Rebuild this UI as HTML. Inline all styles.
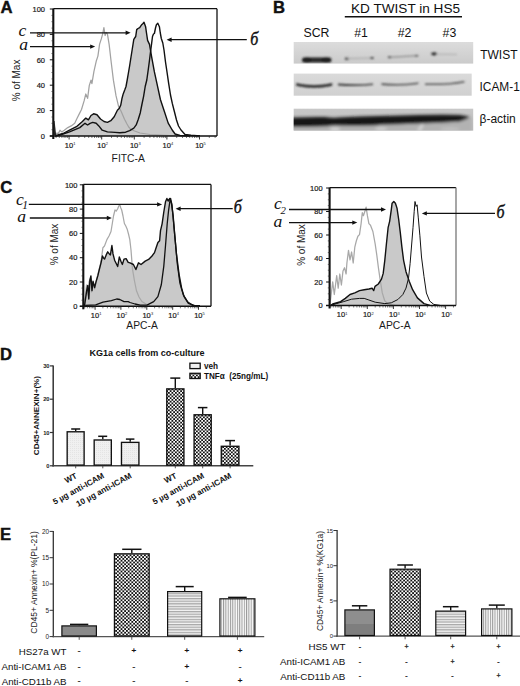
<!DOCTYPE html><html><head><meta charset="utf-8"><style>html,body{margin:0;padding:0;background:#fff;}svg{display:block;}</style></head><body>
<svg width="520" height="686" viewBox="0 0 520 686">
<defs>
<pattern id="chk" width="3.6" height="3.6" patternUnits="userSpaceOnUse"><rect width="3.6" height="3.6" fill="#fff"/><rect width="1.8" height="1.8" fill="#111"/><rect x="1.8" y="1.8" width="1.8" height="1.8" fill="#111"/></pattern>
<pattern id="chk2" width="3.5" height="3.5" patternUnits="userSpaceOnUse"><rect width="3.5" height="3.5" fill="#fff"/><rect width="1.75" height="1.75" fill="#111"/><rect x="1.75" y="1.75" width="1.75" height="1.75" fill="#111"/></pattern>
<pattern id="hl" width="4" height="2.6" patternUnits="userSpaceOnUse"><rect width="4" height="2.6" fill="#f4f4f4"/><rect width="4" height="1.3" fill="#a8a8a8"/></pattern>
<pattern id="vl" width="2.3" height="4" patternUnits="userSpaceOnUse"><rect width="2.3" height="4" fill="#fafafa"/><rect width="1" height="4" fill="#9a9a9a"/></pattern>
<pattern id="dot" width="2" height="2" patternUnits="userSpaceOnUse"><rect width="2" height="2" fill="#f0f0f0"/><rect width="1" height="1" fill="#e4e4e4"/></pattern>
<filter id="bl1" x="-20%" y="-50%" width="140%" height="200%"><feGaussianBlur stdDeviation="0.9"/></filter>
<filter id="bl2" x="-20%" y="-50%" width="140%" height="200%"><feGaussianBlur stdDeviation="1.4"/></filter>
<clipPath id="r1"><rect x="293.7" y="42" width="179.5" height="21.6"/></clipPath>
<clipPath id="r2"><rect x="293.7" y="73.6" width="178" height="22.1"/></clipPath>
<clipPath id="r3"><rect x="293.7" y="108.7" width="179.5" height="21.9"/></clipPath>
<linearGradient id="gb2" x1="0" y1="0" x2="0" y2="1"><stop offset="0.55" stop-color="#8e8e8e"/><stop offset="0.55" stop-color="#7e7e7e"/></linearGradient>
<linearGradient id="wbg1" x1="0" y1="0" x2="0" y2="1"><stop offset="0" stop-color="#dcdcdc"/><stop offset="1" stop-color="#cbcbcb"/></linearGradient>
<linearGradient id="wbg2" x1="0" y1="0" x2="0" y2="1"><stop offset="0" stop-color="#dadada"/><stop offset="1" stop-color="#d0d0d0"/></linearGradient>
<linearGradient id="wbg3" x1="0" y1="0" x2="0" y2="1"><stop offset="0" stop-color="#c8c8c8"/><stop offset="1" stop-color="#bdbdbd"/></linearGradient>
</defs>
<rect width="520" height="686" fill="#fff"/>
<text x="0.6" y="12.9" font-size="16.7" font-weight="bold" font-family='"Liberation Sans", sans-serif' fill="#111" stroke="#111" stroke-width="0.4">A</text>
<polygon points="55.0,136.0 58.0,135.0 63.0,133.5 69.5,130.2 76.4,126.7 82.4,121.5 85.8,118.1 88.4,119.8 91.0,115.5 93.6,113.8 97.0,114.7 100.5,119.0 104.0,121.5 107.4,122.4 110.8,120.7 114.2,116.8 115.8,113.5 117.4,110.2 119.1,108.6 120.7,105.3 121.9,98.8 123.2,93.9 124.8,89.8 126.0,86.5 127.2,80.0 128.4,73.0 129.6,66.0 131.0,57.0 132.2,49.5 133.8,39.4 135.7,36.5 136.7,29.6 138.0,28.5 139.7,27.6 141.7,24.7 143.0,23.5 144.0,22.3 145.6,26.7 146.5,33.0 147.6,40.4 149.5,44.4 151.5,56.2 154.4,71.9 157.4,85.7 160.4,99.5 164.3,111.3 168.2,123.1 172.2,130.0 175.1,134.0 180.0,135.5 190.0,136.0 190.0,136.0 55.0,136.0" fill="#c9c9c9" stroke="none"/>
<polyline points="55.0,136.0 58.0,135.0 63.0,133.5 69.5,130.2 76.4,126.7 82.4,121.5 85.8,118.1 88.4,119.8 91.0,115.5 93.6,113.8 97.0,114.7 100.5,119.0 104.0,121.5 107.4,122.4 110.8,120.7 114.2,116.8 115.8,113.5 117.4,110.2 119.1,108.6 120.7,105.3 121.9,98.8 123.2,93.9 124.8,89.8 126.0,86.5 127.2,80.0 128.4,73.0 129.6,66.0 131.0,57.0 132.2,49.5 133.8,39.4 135.7,36.5 136.7,29.6 138.0,28.5 139.7,27.6 141.7,24.7 143.0,23.5 144.0,22.3 145.6,26.7 146.5,33.0 147.6,40.4 149.5,44.4 151.5,56.2 154.4,71.9 157.4,85.7 160.4,99.5 164.3,111.3 168.2,123.1 172.2,130.0 175.1,134.0 180.0,135.5 190.0,136.0" fill="none" stroke="#111" stroke-width="0" stroke-linejoin="round"/>
<polyline points="55.5,135.5 57.0,133.0 58.3,133.6 60.0,130.2 61.7,131.9 64.3,130.2 67.8,127.6 71.2,125.9 74.7,123.3 77.2,118.1 79.8,112.9 81.5,109.5 84.1,100.9 85.8,94.0 87.6,98.3 89.3,85.4 91.0,80.2 91.9,83.7 93.9,71.6 96.2,61.3 97.9,56.1 99.6,44.1 101.3,38.9 102.7,33.8 103.9,27.7 105.1,35.5 106.2,32.5 107.4,33.8 109.1,44.1 111.3,63.0 113.4,80.2 116.0,95.7 118.5,106.1 121.1,111.2 124.5,119.2 127.0,124.0 128.7,127.0 131.0,129.5 134.6,131.0 140.0,133.0 150.0,134.5 170.0,135.5 200.0,136.0" fill="none" stroke="#a2a2a2" stroke-width="1.25" stroke-linejoin="round"/>
<polyline points="55.0,136.0 58.0,135.0 63.0,133.5 69.5,130.2 76.4,126.7 82.4,121.5 85.8,118.1 88.4,119.8 91.0,115.5 93.6,113.8 97.0,114.7 100.5,119.0 104.0,121.5 107.4,122.4 110.8,120.7 114.2,116.8 115.8,113.5 117.4,110.2 119.1,108.6 120.7,105.3 121.9,98.8 123.2,93.9 124.8,89.8 126.0,86.5 127.2,80.0 128.4,73.0 129.6,66.0 131.0,57.0 132.2,49.5 133.8,39.4 135.7,36.5 136.7,29.6 138.0,28.5 139.7,27.6 141.7,24.7 143.0,23.5 144.0,22.3 145.6,26.7 146.5,33.0 147.6,40.4 149.5,44.4 151.5,56.2 154.4,71.9 157.4,85.7 160.4,99.5 164.3,111.3 168.2,123.1 172.2,130.0 175.1,134.0 180.0,135.5 190.0,136.0" fill="none" stroke="#111" stroke-width="1.4" stroke-linejoin="round"/>
<polyline points="55.0,136.0 58.0,135.5 63.0,134.0 69.5,131.9 79.8,127.6 85.0,123.3 87.6,125.0 90.1,123.3 92.7,122.4 96.2,123.3 98.8,125.9 102.2,130.2 107.4,131.9 115.0,132.4 119.9,132.7 125.6,132.2 129.7,130.6 133.8,128.2 136.2,124.9 138.3,119.2 140.3,112.7 141.9,104.5 143.6,96.3 145.2,86.5 146.8,80.0 148.2,70.0 149.4,61.0 150.5,52.0 151.5,44.4 152.5,36.5 153.5,34.0 154.4,33.5 155.5,28.0 156.4,24.7 157.8,23.3 159.4,26.7 160.3,33.0 161.3,38.5 162.8,43.0 164.0,50.0 165.5,62.0 167.0,72.0 168.7,83.7 170.5,95.0 172.3,103.4 174.5,112.0 176.5,120.0 178.5,126.0 181.0,130.0 185.0,134.5 190.9,135.3 200.0,136.0" fill="none" stroke="#111" stroke-width="1.4" stroke-linejoin="round"/>
<line x1="53.3" y1="8.7" x2="217" y2="8.7" stroke="#111" stroke-width="1.3"/>
<line x1="217" y1="8.7" x2="217" y2="136" stroke="#111" stroke-width="1.3"/>
<line x1="49.8" y1="136" x2="217" y2="136" stroke="#111" stroke-width="1.5"/>
<line x1="53.3" y1="8.7" x2="53.3" y2="139" stroke="#111" stroke-width="2.1"/>
<line x1="49.8" y1="136.0" x2="53.3" y2="136.0" stroke="#111" stroke-width="1"/>
<text x="45" y="138.7" font-size="7.5" text-anchor="end" font-weight="normal" font-style="normal" font-family='"Liberation Sans", sans-serif' fill="#1a1a1a" stroke="#1a1a1a" stroke-width="0.2">0</text>
<line x1="51.5" y1="129.7" x2="53.3" y2="129.7" stroke="#333" stroke-width="0.7"/>
<line x1="51.5" y1="123.3" x2="53.3" y2="123.3" stroke="#333" stroke-width="0.7"/>
<line x1="51.5" y1="117.0" x2="53.3" y2="117.0" stroke="#333" stroke-width="0.7"/>
<line x1="49.8" y1="110.6" x2="53.3" y2="110.6" stroke="#111" stroke-width="1"/>
<text x="45" y="113.3" font-size="7.5" text-anchor="end" font-weight="normal" font-style="normal" font-family='"Liberation Sans", sans-serif' fill="#1a1a1a" stroke="#1a1a1a" stroke-width="0.2">20</text>
<line x1="51.5" y1="104.2" x2="53.3" y2="104.2" stroke="#333" stroke-width="0.7"/>
<line x1="51.5" y1="97.9" x2="53.3" y2="97.9" stroke="#333" stroke-width="0.7"/>
<line x1="51.5" y1="91.5" x2="53.3" y2="91.5" stroke="#333" stroke-width="0.7"/>
<line x1="49.8" y1="85.2" x2="53.3" y2="85.2" stroke="#111" stroke-width="1"/>
<text x="45" y="87.9" font-size="7.5" text-anchor="end" font-weight="normal" font-style="normal" font-family='"Liberation Sans", sans-serif' fill="#1a1a1a" stroke="#1a1a1a" stroke-width="0.2">40</text>
<line x1="51.5" y1="78.9" x2="53.3" y2="78.9" stroke="#333" stroke-width="0.7"/>
<line x1="51.5" y1="72.5" x2="53.3" y2="72.5" stroke="#333" stroke-width="0.7"/>
<line x1="51.5" y1="66.2" x2="53.3" y2="66.2" stroke="#333" stroke-width="0.7"/>
<line x1="49.8" y1="59.8" x2="53.3" y2="59.8" stroke="#111" stroke-width="1"/>
<text x="45" y="62.5" font-size="7.5" text-anchor="end" font-weight="normal" font-style="normal" font-family='"Liberation Sans", sans-serif' fill="#1a1a1a" stroke="#1a1a1a" stroke-width="0.2">60</text>
<line x1="51.5" y1="53.5" x2="53.3" y2="53.5" stroke="#333" stroke-width="0.7"/>
<line x1="51.5" y1="47.1" x2="53.3" y2="47.1" stroke="#333" stroke-width="0.7"/>
<line x1="51.5" y1="40.8" x2="53.3" y2="40.8" stroke="#333" stroke-width="0.7"/>
<line x1="49.8" y1="34.4" x2="53.3" y2="34.4" stroke="#111" stroke-width="1"/>
<text x="45" y="37.1" font-size="7.5" text-anchor="end" font-weight="normal" font-style="normal" font-family='"Liberation Sans", sans-serif' fill="#1a1a1a" stroke="#1a1a1a" stroke-width="0.2">80</text>
<line x1="51.5" y1="28.1" x2="53.3" y2="28.1" stroke="#333" stroke-width="0.7"/>
<line x1="51.5" y1="21.7" x2="53.3" y2="21.7" stroke="#333" stroke-width="0.7"/>
<line x1="51.5" y1="15.4" x2="53.3" y2="15.4" stroke="#333" stroke-width="0.7"/>
<line x1="49.8" y1="9.0" x2="53.3" y2="9.0" stroke="#111" stroke-width="1"/>
<text x="45" y="11.7" font-size="7.5" text-anchor="end" font-weight="normal" font-style="normal" font-family='"Liberation Sans", sans-serif' fill="#1a1a1a" stroke="#1a1a1a" stroke-width="0.2">100</text>
<line x1="56.1" y1="136" x2="56.1" y2="138" stroke="#222" stroke-width="0.6"/>
<line x1="59.3" y1="136" x2="59.3" y2="138" stroke="#222" stroke-width="0.6"/>
<line x1="61.9" y1="136" x2="61.9" y2="138" stroke="#222" stroke-width="0.6"/>
<line x1="64.1" y1="136" x2="64.1" y2="138" stroke="#222" stroke-width="0.6"/>
<line x1="65.9" y1="136" x2="65.9" y2="138" stroke="#222" stroke-width="0.6"/>
<line x1="67.6" y1="136" x2="67.6" y2="138" stroke="#222" stroke-width="0.6"/>
<line x1="69.1" y1="136" x2="69.1" y2="139.5" stroke="#222" stroke-width="0.9"/>
<line x1="78.9" y1="136" x2="78.9" y2="138" stroke="#222" stroke-width="0.6"/>
<line x1="84.7" y1="136" x2="84.7" y2="138" stroke="#222" stroke-width="0.6"/>
<line x1="88.7" y1="136" x2="88.7" y2="138" stroke="#222" stroke-width="0.6"/>
<line x1="91.9" y1="136" x2="91.9" y2="138" stroke="#222" stroke-width="0.6"/>
<line x1="94.5" y1="136" x2="94.5" y2="138" stroke="#222" stroke-width="0.6"/>
<line x1="96.7" y1="136" x2="96.7" y2="138" stroke="#222" stroke-width="0.6"/>
<line x1="98.5" y1="136" x2="98.5" y2="138" stroke="#222" stroke-width="0.6"/>
<line x1="100.2" y1="136" x2="100.2" y2="138" stroke="#222" stroke-width="0.6"/>
<line x1="101.7" y1="136" x2="101.7" y2="139.5" stroke="#222" stroke-width="0.9"/>
<line x1="111.5" y1="136" x2="111.5" y2="138" stroke="#222" stroke-width="0.6"/>
<line x1="117.3" y1="136" x2="117.3" y2="138" stroke="#222" stroke-width="0.6"/>
<line x1="121.3" y1="136" x2="121.3" y2="138" stroke="#222" stroke-width="0.6"/>
<line x1="124.5" y1="136" x2="124.5" y2="138" stroke="#222" stroke-width="0.6"/>
<line x1="127.1" y1="136" x2="127.1" y2="138" stroke="#222" stroke-width="0.6"/>
<line x1="129.3" y1="136" x2="129.3" y2="138" stroke="#222" stroke-width="0.6"/>
<line x1="131.1" y1="136" x2="131.1" y2="138" stroke="#222" stroke-width="0.6"/>
<line x1="132.8" y1="136" x2="132.8" y2="138" stroke="#222" stroke-width="0.6"/>
<line x1="134.3" y1="136" x2="134.3" y2="139.5" stroke="#222" stroke-width="0.9"/>
<line x1="144.1" y1="136" x2="144.1" y2="138" stroke="#222" stroke-width="0.6"/>
<line x1="149.9" y1="136" x2="149.9" y2="138" stroke="#222" stroke-width="0.6"/>
<line x1="153.9" y1="136" x2="153.9" y2="138" stroke="#222" stroke-width="0.6"/>
<line x1="157.1" y1="136" x2="157.1" y2="138" stroke="#222" stroke-width="0.6"/>
<line x1="159.7" y1="136" x2="159.7" y2="138" stroke="#222" stroke-width="0.6"/>
<line x1="161.9" y1="136" x2="161.9" y2="138" stroke="#222" stroke-width="0.6"/>
<line x1="163.7" y1="136" x2="163.7" y2="138" stroke="#222" stroke-width="0.6"/>
<line x1="165.4" y1="136" x2="165.4" y2="138" stroke="#222" stroke-width="0.6"/>
<line x1="166.9" y1="136" x2="166.9" y2="139.5" stroke="#222" stroke-width="0.9"/>
<line x1="176.7" y1="136" x2="176.7" y2="138" stroke="#222" stroke-width="0.6"/>
<line x1="182.5" y1="136" x2="182.5" y2="138" stroke="#222" stroke-width="0.6"/>
<line x1="186.5" y1="136" x2="186.5" y2="138" stroke="#222" stroke-width="0.6"/>
<line x1="189.7" y1="136" x2="189.7" y2="138" stroke="#222" stroke-width="0.6"/>
<line x1="192.3" y1="136" x2="192.3" y2="138" stroke="#222" stroke-width="0.6"/>
<line x1="194.5" y1="136" x2="194.5" y2="138" stroke="#222" stroke-width="0.6"/>
<line x1="196.3" y1="136" x2="196.3" y2="138" stroke="#222" stroke-width="0.6"/>
<line x1="198.0" y1="136" x2="198.0" y2="138" stroke="#222" stroke-width="0.6"/>
<line x1="199.5" y1="136" x2="199.5" y2="139.5" stroke="#222" stroke-width="0.9"/>
<line x1="209.3" y1="136" x2="209.3" y2="138" stroke="#222" stroke-width="0.6"/>
<line x1="215.1" y1="136" x2="215.1" y2="138" stroke="#222" stroke-width="0.6"/>
<text x="68.9" y="147.6" font-size="7.5" text-anchor="middle" font-weight="normal" font-style="normal" font-family='"Liberation Sans", sans-serif' fill="#1a1a1a" stroke="#1a1a1a" stroke-width="0.2">10</text>
<text x="73.2" y="145.0" font-size="4.0" text-anchor="start" font-weight="normal" font-style="normal" font-family='"Liberation Sans", sans-serif' fill="#222" >1</text>
<text x="101.5" y="147.6" font-size="7.5" text-anchor="middle" font-weight="normal" font-style="normal" font-family='"Liberation Sans", sans-serif' fill="#1a1a1a" stroke="#1a1a1a" stroke-width="0.2">10</text>
<text x="105.8" y="145.0" font-size="4.0" text-anchor="start" font-weight="normal" font-style="normal" font-family='"Liberation Sans", sans-serif' fill="#222" >2</text>
<text x="134.1" y="147.6" font-size="7.5" text-anchor="middle" font-weight="normal" font-style="normal" font-family='"Liberation Sans", sans-serif' fill="#1a1a1a" stroke="#1a1a1a" stroke-width="0.2">10</text>
<text x="138.4" y="145.0" font-size="4.0" text-anchor="start" font-weight="normal" font-style="normal" font-family='"Liberation Sans", sans-serif' fill="#222" >3</text>
<text x="166.7" y="147.6" font-size="7.5" text-anchor="middle" font-weight="normal" font-style="normal" font-family='"Liberation Sans", sans-serif' fill="#1a1a1a" stroke="#1a1a1a" stroke-width="0.2">10</text>
<text x="171.0" y="145.0" font-size="4.0" text-anchor="start" font-weight="normal" font-style="normal" font-family='"Liberation Sans", sans-serif' fill="#222" >4</text>
<text x="199.3" y="147.6" font-size="7.5" text-anchor="middle" font-weight="normal" font-style="normal" font-family='"Liberation Sans", sans-serif' fill="#1a1a1a" stroke="#1a1a1a" stroke-width="0.2">10</text>
<text x="203.6" y="145.0" font-size="4.0" text-anchor="start" font-weight="normal" font-style="normal" font-family='"Liberation Sans", sans-serif' fill="#222" >5</text>
<text x="128.2" y="162.0" font-size="10.3" text-anchor="middle" font-weight="normal" font-style="normal" font-family='"Liberation Sans", sans-serif' fill="#1a1a1a" >FITC-A</text>
<text x="0" y="0" font-size="10" text-anchor="middle" font-family='"Liberation Sans", sans-serif' fill="#222" transform="translate(20.0,80.4) rotate(-90)">% of Max</text>
<polygon points="53.6,121 54.6,121 56.2,135.5 53.6,135.5" fill="#222"/>
<line x1="30" y1="32.8" x2="127.6" y2="32.8" stroke="#111" stroke-width="1.3"/>
<polygon points="130.6,32.8 125.6,30.599999999999998 125.6,35.0" fill="#111"/>
<line x1="30" y1="46.6" x2="92.2" y2="46.6" stroke="#111" stroke-width="1.3"/>
<polygon points="95.2,46.6 90.2,44.4 90.2,48.800000000000004" fill="#111"/>
<line x1="246.8" y1="39.7" x2="169.6" y2="39.7" stroke="#111" stroke-width="1.3"/>
<polygon points="166.6,39.7 171.6,37.5 171.6,41.900000000000006" fill="#111"/>
<text x="18.5" y="36.2" font-size="17.6" text-anchor="start" font-weight="normal" font-style="italic" font-family='"Liberation Serif", serif' fill="#111" >c</text>
<text x="19.2" y="50.1" font-size="17.6" text-anchor="start" font-weight="normal" font-style="italic" font-family='"Liberation Serif", serif' fill="#111" >a</text>
<text x="0" y="0" font-size="19.3" font-style="italic" font-family='"Liberation Serif", serif' fill="#111" stroke="#111" stroke-width="0.45" transform="translate(250.29999999999998,44.5) scale(0.83,1)">б</text>
<text x="273.0" y="12.9" font-size="16.7" font-weight="bold" font-family='"Liberation Sans", sans-serif' fill="#111" stroke="#111" stroke-width="0.4">B</text>
<text x="351" y="12.6" font-size="13.6" text-anchor="start" font-weight="normal" font-style="normal" font-family='"Liberation Sans", sans-serif' fill="#111" >KD TWIST in HS5</text>
<line x1="344.8" y1="16.8" x2="462" y2="16.8" stroke="#111" stroke-width="1.6"/>
<text x="316.5" y="36.6" font-size="12.3" text-anchor="middle" font-weight="normal" font-style="normal" font-family='"Liberation Sans", sans-serif' fill="#111" >SCR</text>
<text x="361" y="36.6" font-size="12.3" text-anchor="middle" font-weight="normal" font-style="normal" font-family='"Liberation Sans", sans-serif' fill="#111" >#1</text>
<text x="404.5" y="36.6" font-size="12.3" text-anchor="middle" font-weight="normal" font-style="normal" font-family='"Liberation Sans", sans-serif' fill="#111" >#2</text>
<text x="449.4" y="36.6" font-size="12.3" text-anchor="middle" font-weight="normal" font-style="normal" font-family='"Liberation Sans", sans-serif' fill="#111" >#3</text>
<text x="480.2" y="59.4" font-size="12" text-anchor="start" font-weight="normal" font-style="normal" font-family='"Liberation Sans", sans-serif' fill="#111" >TWIST</text>
<text x="479.5" y="91.3" font-size="11.9" text-anchor="start" font-weight="normal" font-style="normal" font-family='"Liberation Sans", sans-serif' fill="#111" >ICAM-1</text>
<text x="479.5" y="123.0" font-size="12" text-anchor="start" font-weight="normal" font-style="normal" font-family='"Liberation Sans", sans-serif' fill="#111" >β-actin</text>
<rect x="293.7" y="42" width="179.5" height="21.6" fill="url(#wbg1)"/>
<g clip-path="url(#r1)"><g filter="url(#bl1)">
<rect x="302" y="57.5" width="29.5" height="5.0" rx="2.5" fill="#262626"/><ellipse cx="307" cy="60" rx="4.5" ry="2.4" fill="#1a1a1a"/><ellipse cx="326" cy="60" rx="4.5" ry="2.4" fill="#1a1a1a"/>
<ellipse cx="347" cy="58.7" rx="2.2" ry="1.2" fill="#333"/><line x1="347" y1="58.6" x2="372" y2="58.0" stroke="#a4a4a4" stroke-width="1"/><ellipse cx="372" cy="58" rx="2" ry="1.1" fill="#444"/>
<line x1="388" y1="57.4" x2="418.5" y2="55.6" stroke="#8a8a8a" stroke-width="1.1"/><ellipse cx="389.5" cy="57.3" rx="1.8" ry="1" fill="#555"/><ellipse cx="416.5" cy="55.7" rx="1.8" ry="1" fill="#666"/>
<ellipse cx="434.2" cy="53.8" rx="3.0" ry="1.6" fill="#2a2a2a"/><line x1="436" y1="54.2" x2="457" y2="54.4" stroke="#aaa" stroke-width="1"/>
</g></g>
<rect x="293.7" y="73.6" width="178" height="22.1" fill="url(#wbg2)"/>
<g clip-path="url(#r2)"><g filter="url(#bl1)">
<path d="M296,83.2 Q314,87.2 332.4,83.2 L332,85.8 Q314,89.8 296.5,85.8 Z" fill="#1c1c1c"/>
<path d="M338,83.6 Q355,85.2 373,83.4 L373,85.0 Q355,86.8 338,85.4 Z" fill="#3a3a3a"/>
<path d="M381.5,83.2 Q400,85.0 418.4,82.4 L418.4,83.9 Q400,86.4 381.5,84.9 Z" fill="#4a4a4a"/>
<path d="M425,83.4 Q448,84.2 464.5,81.0 L464.5,82.4 Q448,85.6 425,85.0 Z" fill="#505050"/>
</g></g>
<rect x="293.7" y="108.7" width="179.5" height="21.9" fill="url(#wbg3)"/>
<g clip-path="url(#r3)"><g filter="url(#bl2)">
<path d="M290,123 L294,123 L333,124 L379,122.5 L420,121.5 L462,120 L472,118 L472,132 L290,132 Z" fill="#b2b2b2"/>
<ellipse cx="335" cy="129" rx="5" ry="2" fill="#d0d0d0"/><ellipse cx="381" cy="128.8" rx="6" ry="1.8" fill="#cdcdcd"/><path d="M421,124 L417,131 L421,131 L424,124 Z" fill="#d2d2d2"/><ellipse cx="450" cy="129" rx="10" ry="1.5" fill="#c4c4c4"/>
<path d="M290,117.6 L294,117.6 Q312,116.6 325,117 Q332,118.3 338,117.4 Q360,116.2 379,116.0 Q400,115.2 420,114.9 Q445,114.4 460,114.9 Q466,115.6 470,117.0 L470,117.6 Q466,119.6 460,121.4 Q440,122.8 420,123.4 Q400,124.2 382,124.7 Q378,125.3 372,125.5 Q350,125.8 336,125.6 Q333,125.0 328,126.3 Q310,126.9 294,127.0 L290,127.0 Z" fill="#181818"/>
</g></g>
<text x="0.3" y="193.2" font-size="16.7" font-weight="bold" font-family='"Liberation Sans", sans-serif' fill="#111" stroke="#111" stroke-width="0.4">C</text>
<polygon points="84.2,306.0 84.6,305.3 86.7,290.6 87.8,285.4 88.8,299.0 89.9,280.1 90.9,275.9 92.0,290.6 93.0,281.2 94.6,287.5 96.2,281.2 97.8,275.9 99.3,269.6 100.9,263.3 102.5,256.0 103.5,258.0 104.6,259.1 106.2,254.9 107.7,251.8 109.3,253.9 110.4,254.9 111.9,245.5 113.0,253.9 114.6,260.2 116.1,263.3 117.7,266.5 119.3,257.0 120.9,261.2 122.4,264.4 124.0,259.1 126.1,258.6 128.2,262.3 130.0,262.8 133.4,264.5 135.9,269.5 138.5,262.8 141.0,264.5 145.2,261.1 148.6,259.4 152.0,256.0 154.5,252.6 156.2,247.5 157.9,242.5 159.6,240.8 160.5,230.6 162.1,223.8 163.8,212.0 165.5,201.8 166.9,198.5 168.1,201.0 169.8,198.5 171.5,203.5 173.1,215.4 174.8,235.7 176.5,254.3 179.1,274.6 181.6,288.1 184.1,296.6 188.4,303.4 194.3,305.5 200.0,305.8 200.0,306.3 84.2,306.3" fill="#c9c9c9" stroke="none"/>
<polyline points="84.2,306.0 84.6,305.3 86.7,290.6 87.8,285.4 88.8,299.0 89.9,280.1 90.9,275.9 92.0,290.6 93.0,281.2 94.6,287.5 96.2,281.2 97.8,275.9 99.3,269.6 100.9,263.3 102.5,256.0 103.5,258.0 104.6,259.1 106.2,254.9 107.7,251.8 109.3,253.9 110.4,254.9 111.9,245.5 113.0,253.9 114.6,260.2 116.1,263.3 117.7,266.5 119.3,257.0 120.9,261.2 122.4,264.4 124.0,259.1 126.1,258.6 128.2,262.3 130.0,262.8 133.4,264.5 135.9,269.5 138.5,262.8 141.0,264.5 145.2,261.1 148.6,259.4 152.0,256.0 154.5,252.6 156.2,247.5 157.9,242.5 159.6,240.8 160.5,230.6 162.1,223.8 163.8,212.0 165.5,201.8 166.9,198.5 168.1,201.0 169.8,198.5 171.5,203.5 173.1,215.4 174.8,235.7 176.5,254.3 179.1,274.6 181.6,288.1 184.1,296.6 188.4,303.4 194.3,305.5 200.0,305.8" fill="none" stroke="#111" stroke-width="0" stroke-linejoin="round"/>
<polyline points="84.2,306.0 85.5,296.0 86.5,285.0 88.0,295.0 89.0,282.0 90.5,278.0 91.5,292.0 93.0,283.0 94.8,289.0 96.5,280.0 98.0,274.0 99.5,268.0 101.0,262.0 102.9,247.7 104.5,246.0 106.9,239.6 109.0,236.0 111.0,231.5 112.3,223.5 113.5,216.0 115.0,210.0 116.3,211.0 117.7,208.7 118.8,206.0 119.8,204.6 120.8,208.0 121.7,210.0 123.0,216.0 124.4,223.5 125.8,226.0 127.1,228.9 128.5,234.0 129.8,239.6 131.0,250.0 132.5,269.2 134.5,281.0 136.5,290.8 139.0,297.0 141.9,301.5 146.0,304.0 150.0,305.5" fill="none" stroke="#a8a8a8" stroke-width="1.25" stroke-linejoin="round"/>
<polyline points="84.2,306.0 84.6,305.3 86.7,290.6 87.8,285.4 88.8,299.0 89.9,280.1 90.9,275.9 92.0,290.6 93.0,281.2 94.6,287.5 96.2,281.2 97.8,275.9 99.3,269.6 100.9,263.3 102.5,256.0 103.5,258.0 104.6,259.1 106.2,254.9 107.7,251.8 109.3,253.9 110.4,254.9 111.9,245.5 113.0,253.9 114.6,260.2 116.1,263.3 117.7,266.5 119.3,257.0 120.9,261.2 122.4,264.4 124.0,259.1 126.1,258.6 128.2,262.3 130.0,262.8 133.4,264.5 135.9,269.5 138.5,262.8 141.0,264.5 145.2,261.1 148.6,259.4 152.0,256.0 154.5,252.6 156.2,247.5 157.9,242.5 159.6,240.8 160.5,230.6 162.1,223.8 163.8,212.0 165.5,201.8 166.9,198.5 168.1,201.0 169.8,198.5 171.5,203.5 173.1,215.4 174.8,235.7 176.5,254.3 179.1,274.6 181.6,288.1 184.1,296.6 188.4,303.4 194.3,305.5 200.0,305.8" fill="none" stroke="#111" stroke-width="1.4" stroke-linejoin="round"/>
<polyline points="85.2,305.3 95.7,304.8 103.0,302.2 111.4,300.6 116.7,299.0 119.8,299.5 124.0,301.6 128.2,301.6 130.0,302.5 135.0,304.0 140.2,305.1 146.9,305.1 153.7,301.7 157.9,296.6 161.3,284.8 163.8,266.1 165.5,245.8 167.2,223.8 168.6,210.3 169.8,201.8 170.6,198.5 172.0,205.2 173.7,223.8 175.7,245.8 177.4,264.5 179.9,283.1 183.3,294.9 187.5,301.7 192.6,305.3 200.0,305.8" fill="none" stroke="#111" stroke-width="1.3" stroke-linejoin="round"/>
<line x1="83.3" y1="184.4" x2="211" y2="184.4" stroke="#111" stroke-width="1.3"/>
<line x1="211" y1="184.4" x2="211" y2="306.3" stroke="#111" stroke-width="1.3"/>
<line x1="79.8" y1="306.3" x2="211" y2="306.3" stroke="#111" stroke-width="1.5"/>
<line x1="83.3" y1="184.4" x2="83.3" y2="309.3" stroke="#111" stroke-width="2.1"/>
<line x1="79.8" y1="306.3" x2="83.3" y2="306.3" stroke="#111" stroke-width="1"/>
<text x="77.4" y="309.0" font-size="7.5" text-anchor="end" font-weight="normal" font-style="normal" font-family='"Liberation Sans", sans-serif' fill="#1a1a1a" stroke="#1a1a1a" stroke-width="0.2">0</text>
<line x1="81.5" y1="300.2" x2="83.3" y2="300.2" stroke="#333" stroke-width="0.7"/>
<line x1="81.5" y1="294.2" x2="83.3" y2="294.2" stroke="#333" stroke-width="0.7"/>
<line x1="81.5" y1="288.1" x2="83.3" y2="288.1" stroke="#333" stroke-width="0.7"/>
<line x1="79.8" y1="282.0" x2="83.3" y2="282.0" stroke="#111" stroke-width="1"/>
<text x="77.4" y="284.7" font-size="7.5" text-anchor="end" font-weight="normal" font-style="normal" font-family='"Liberation Sans", sans-serif' fill="#1a1a1a" stroke="#1a1a1a" stroke-width="0.2">20</text>
<line x1="81.5" y1="275.9" x2="83.3" y2="275.9" stroke="#333" stroke-width="0.7"/>
<line x1="81.5" y1="269.9" x2="83.3" y2="269.9" stroke="#333" stroke-width="0.7"/>
<line x1="81.5" y1="263.8" x2="83.3" y2="263.8" stroke="#333" stroke-width="0.7"/>
<line x1="79.8" y1="257.7" x2="83.3" y2="257.7" stroke="#111" stroke-width="1"/>
<text x="77.4" y="260.4" font-size="7.5" text-anchor="end" font-weight="normal" font-style="normal" font-family='"Liberation Sans", sans-serif' fill="#1a1a1a" stroke="#1a1a1a" stroke-width="0.2">40</text>
<line x1="81.5" y1="251.6" x2="83.3" y2="251.6" stroke="#333" stroke-width="0.7"/>
<line x1="81.5" y1="245.5" x2="83.3" y2="245.5" stroke="#333" stroke-width="0.7"/>
<line x1="81.5" y1="239.5" x2="83.3" y2="239.5" stroke="#333" stroke-width="0.7"/>
<line x1="79.8" y1="233.4" x2="83.3" y2="233.4" stroke="#111" stroke-width="1"/>
<text x="77.4" y="236.1" font-size="7.5" text-anchor="end" font-weight="normal" font-style="normal" font-family='"Liberation Sans", sans-serif' fill="#1a1a1a" stroke="#1a1a1a" stroke-width="0.2">60</text>
<line x1="81.5" y1="227.3" x2="83.3" y2="227.3" stroke="#333" stroke-width="0.7"/>
<line x1="81.5" y1="221.2" x2="83.3" y2="221.2" stroke="#333" stroke-width="0.7"/>
<line x1="81.5" y1="215.2" x2="83.3" y2="215.2" stroke="#333" stroke-width="0.7"/>
<line x1="79.8" y1="209.1" x2="83.3" y2="209.1" stroke="#111" stroke-width="1"/>
<text x="77.4" y="211.8" font-size="7.5" text-anchor="end" font-weight="normal" font-style="normal" font-family='"Liberation Sans", sans-serif' fill="#1a1a1a" stroke="#1a1a1a" stroke-width="0.2">80</text>
<line x1="81.5" y1="203.0" x2="83.3" y2="203.0" stroke="#333" stroke-width="0.7"/>
<line x1="81.5" y1="197.0" x2="83.3" y2="197.0" stroke="#333" stroke-width="0.7"/>
<line x1="81.5" y1="190.9" x2="83.3" y2="190.9" stroke="#333" stroke-width="0.7"/>
<line x1="79.8" y1="184.8" x2="83.3" y2="184.8" stroke="#111" stroke-width="1"/>
<text x="77.4" y="187.5" font-size="7.5" text-anchor="end" font-weight="normal" font-style="normal" font-family='"Liberation Sans", sans-serif' fill="#1a1a1a" stroke="#1a1a1a" stroke-width="0.2">100</text>
<line x1="84.8" y1="306.3" x2="84.8" y2="308.3" stroke="#222" stroke-width="0.6"/>
<line x1="87.3" y1="306.3" x2="87.3" y2="308.3" stroke="#222" stroke-width="0.6"/>
<line x1="89.4" y1="306.3" x2="89.4" y2="308.3" stroke="#222" stroke-width="0.6"/>
<line x1="91.1" y1="306.3" x2="91.1" y2="308.3" stroke="#222" stroke-width="0.6"/>
<line x1="92.6" y1="306.3" x2="92.6" y2="308.3" stroke="#222" stroke-width="0.6"/>
<line x1="93.9" y1="306.3" x2="93.9" y2="308.3" stroke="#222" stroke-width="0.6"/>
<line x1="95.1" y1="306.3" x2="95.1" y2="309.8" stroke="#222" stroke-width="0.9"/>
<line x1="102.9" y1="306.3" x2="102.9" y2="308.3" stroke="#222" stroke-width="0.6"/>
<line x1="107.4" y1="306.3" x2="107.4" y2="308.3" stroke="#222" stroke-width="0.6"/>
<line x1="110.7" y1="306.3" x2="110.7" y2="308.3" stroke="#222" stroke-width="0.6"/>
<line x1="113.2" y1="306.3" x2="113.2" y2="308.3" stroke="#222" stroke-width="0.6"/>
<line x1="115.2" y1="306.3" x2="115.2" y2="308.3" stroke="#222" stroke-width="0.6"/>
<line x1="116.9" y1="306.3" x2="116.9" y2="308.3" stroke="#222" stroke-width="0.6"/>
<line x1="118.4" y1="306.3" x2="118.4" y2="308.3" stroke="#222" stroke-width="0.6"/>
<line x1="119.8" y1="306.3" x2="119.8" y2="308.3" stroke="#222" stroke-width="0.6"/>
<line x1="120.9" y1="306.3" x2="120.9" y2="309.8" stroke="#222" stroke-width="0.9"/>
<line x1="128.7" y1="306.3" x2="128.7" y2="308.3" stroke="#222" stroke-width="0.6"/>
<line x1="133.3" y1="306.3" x2="133.3" y2="308.3" stroke="#222" stroke-width="0.6"/>
<line x1="136.5" y1="306.3" x2="136.5" y2="308.3" stroke="#222" stroke-width="0.6"/>
<line x1="139.0" y1="306.3" x2="139.0" y2="308.3" stroke="#222" stroke-width="0.6"/>
<line x1="141.1" y1="306.3" x2="141.1" y2="308.3" stroke="#222" stroke-width="0.6"/>
<line x1="142.8" y1="306.3" x2="142.8" y2="308.3" stroke="#222" stroke-width="0.6"/>
<line x1="144.3" y1="306.3" x2="144.3" y2="308.3" stroke="#222" stroke-width="0.6"/>
<line x1="145.6" y1="306.3" x2="145.6" y2="308.3" stroke="#222" stroke-width="0.6"/>
<line x1="146.8" y1="306.3" x2="146.8" y2="309.8" stroke="#222" stroke-width="0.9"/>
<line x1="154.6" y1="306.3" x2="154.6" y2="308.3" stroke="#222" stroke-width="0.6"/>
<line x1="159.1" y1="306.3" x2="159.1" y2="308.3" stroke="#222" stroke-width="0.6"/>
<line x1="162.4" y1="306.3" x2="162.4" y2="308.3" stroke="#222" stroke-width="0.6"/>
<line x1="164.9" y1="306.3" x2="164.9" y2="308.3" stroke="#222" stroke-width="0.6"/>
<line x1="166.9" y1="306.3" x2="166.9" y2="308.3" stroke="#222" stroke-width="0.6"/>
<line x1="168.6" y1="306.3" x2="168.6" y2="308.3" stroke="#222" stroke-width="0.6"/>
<line x1="170.1" y1="306.3" x2="170.1" y2="308.3" stroke="#222" stroke-width="0.6"/>
<line x1="171.5" y1="306.3" x2="171.5" y2="308.3" stroke="#222" stroke-width="0.6"/>
<line x1="172.7" y1="306.3" x2="172.7" y2="309.8" stroke="#222" stroke-width="0.9"/>
<line x1="180.4" y1="306.3" x2="180.4" y2="308.3" stroke="#222" stroke-width="0.6"/>
<line x1="185.0" y1="306.3" x2="185.0" y2="308.3" stroke="#222" stroke-width="0.6"/>
<line x1="188.2" y1="306.3" x2="188.2" y2="308.3" stroke="#222" stroke-width="0.6"/>
<line x1="190.7" y1="306.3" x2="190.7" y2="308.3" stroke="#222" stroke-width="0.6"/>
<line x1="192.8" y1="306.3" x2="192.8" y2="308.3" stroke="#222" stroke-width="0.6"/>
<line x1="194.5" y1="306.3" x2="194.5" y2="308.3" stroke="#222" stroke-width="0.6"/>
<line x1="196.0" y1="306.3" x2="196.0" y2="308.3" stroke="#222" stroke-width="0.6"/>
<line x1="197.3" y1="306.3" x2="197.3" y2="308.3" stroke="#222" stroke-width="0.6"/>
<line x1="198.5" y1="306.3" x2="198.5" y2="309.8" stroke="#222" stroke-width="0.9"/>
<line x1="206.3" y1="306.3" x2="206.3" y2="308.3" stroke="#222" stroke-width="0.6"/>
<text x="94.9" y="317.9" font-size="7.5" text-anchor="middle" font-weight="normal" font-style="normal" font-family='"Liberation Sans", sans-serif' fill="#1a1a1a" stroke="#1a1a1a" stroke-width="0.2">10</text>
<text x="99.2" y="315.3" font-size="4.0" text-anchor="start" font-weight="normal" font-style="normal" font-family='"Liberation Sans", sans-serif' fill="#222" >1</text>
<text x="120.7" y="317.9" font-size="7.5" text-anchor="middle" font-weight="normal" font-style="normal" font-family='"Liberation Sans", sans-serif' fill="#1a1a1a" stroke="#1a1a1a" stroke-width="0.2">10</text>
<text x="125.0" y="315.3" font-size="4.0" text-anchor="start" font-weight="normal" font-style="normal" font-family='"Liberation Sans", sans-serif' fill="#222" >2</text>
<text x="146.6" y="317.9" font-size="7.5" text-anchor="middle" font-weight="normal" font-style="normal" font-family='"Liberation Sans", sans-serif' fill="#1a1a1a" stroke="#1a1a1a" stroke-width="0.2">10</text>
<text x="150.9" y="315.3" font-size="4.0" text-anchor="start" font-weight="normal" font-style="normal" font-family='"Liberation Sans", sans-serif' fill="#222" >3</text>
<text x="172.5" y="317.9" font-size="7.5" text-anchor="middle" font-weight="normal" font-style="normal" font-family='"Liberation Sans", sans-serif' fill="#1a1a1a" stroke="#1a1a1a" stroke-width="0.2">10</text>
<text x="176.8" y="315.3" font-size="4.0" text-anchor="start" font-weight="normal" font-style="normal" font-family='"Liberation Sans", sans-serif' fill="#222" >4</text>
<text x="198.3" y="317.9" font-size="7.5" text-anchor="middle" font-weight="normal" font-style="normal" font-family='"Liberation Sans", sans-serif' fill="#1a1a1a" stroke="#1a1a1a" stroke-width="0.2">10</text>
<text x="202.6" y="315.3" font-size="4.0" text-anchor="start" font-weight="normal" font-style="normal" font-family='"Liberation Sans", sans-serif' fill="#222" >5</text>
<text x="142.1" y="328.9" font-size="10.3" text-anchor="middle" font-weight="normal" font-style="normal" font-family='"Liberation Sans", sans-serif' fill="#1a1a1a" >APC-A</text>
<text x="0" y="0" font-size="10" text-anchor="middle" font-family='"Liberation Sans", sans-serif' fill="#222" transform="translate(58.4,244.5) rotate(-90)">% of Max</text>
<line x1="28.8" y1="204.4" x2="159.1" y2="204.4" stroke="#111" stroke-width="1.3"/>
<polygon points="162.1,204.4 157.1,202.20000000000002 157.1,206.6" fill="#111"/>
<line x1="29.8" y1="218" x2="108.8" y2="218" stroke="#111" stroke-width="1.3"/>
<polygon points="111.8,218 106.8,215.8 106.8,220.2" fill="#111"/>
<line x1="232.7" y1="208.7" x2="178.6" y2="208.7" stroke="#111" stroke-width="1.3"/>
<polygon points="175.6,208.7 180.6,206.5 180.6,210.89999999999998" fill="#111"/>
<text x="16.0" y="204.5" font-size="17.6" text-anchor="start" font-weight="normal" font-style="italic" font-family='"Liberation Serif", serif' fill="#111" >c</text>
<text x="22.3" y="209.2" font-size="11.5" text-anchor="start" font-weight="normal" font-style="italic" font-family='"Liberation Serif", serif' fill="#111" >1</text>
<text x="17.3" y="222" font-size="17.6" text-anchor="start" font-weight="normal" font-style="italic" font-family='"Liberation Serif", serif' fill="#111" >a</text>
<text x="0" y="0" font-size="19.3" font-style="italic" font-family='"Liberation Serif", serif' fill="#111" stroke="#111" stroke-width="0.45" transform="translate(233.79999999999998,213.2) scale(0.83,1)">б</text>
<polygon points="330.8,305.4 332.7,304.0 340.6,301.6 345.3,298.4 350.0,294.5 354.8,292.9 359.5,290.6 364.2,289.8 368.9,289.0 372.1,288.2 373.7,290.6 375.0,286.4 378.3,284.0 381.5,279.1 383.2,273.4 384.8,260.3 386.4,244.0 388.1,227.7 389.7,221.1 391.3,209.7 392.1,203.2 393.8,201.5 395.4,203.2 397.0,208.1 398.7,219.5 400.3,232.6 401.9,247.2 403.6,260.3 406.0,271.7 409.3,281.5 412.6,289.7 417.4,297.9 424.0,303.6 430.0,305.4 430.0,305.3 330.8,305.3" fill="#c9c9c9" stroke="none"/>
<polyline points="330.8,305.4 332.7,304.0 340.6,301.6 345.3,298.4 350.0,294.5 354.8,292.9 359.5,290.6 364.2,289.8 368.9,289.0 372.1,288.2 373.7,290.6 375.0,286.4 378.3,284.0 381.5,279.1 383.2,273.4 384.8,260.3 386.4,244.0 388.1,227.7 389.7,221.1 391.3,209.7 392.1,203.2 393.8,201.5 395.4,203.2 397.0,208.1 398.7,219.5 400.3,232.6 401.9,247.2 403.6,260.3 406.0,271.7 409.3,281.5 412.6,289.7 417.4,297.9 424.0,303.6 430.0,305.4" fill="none" stroke="#111" stroke-width="0" stroke-linejoin="round"/>
<polyline points="329.5,305.0 330.4,300.8 332.7,281.9 334.3,294.5 336.7,275.6 338.2,288.2 339.8,274.0 341.4,285.0 343.0,270.9 344.5,267.7 346.1,274.0 346.9,263.0 348.5,250.4 350.0,259.8 351.6,252.0 353.2,263.0 354.8,247.2 356.3,241.0 357.9,236.2 359.5,234.6 361.1,223.6 362.3,212.6 363.4,215.7 365.0,211.0 366.1,207.1 367.4,215.7 368.9,223.6 370.5,225.2 372.9,231.5 375.2,244.1 376.8,255.1 378.4,267.7 380.0,278.7 382.3,292.9 384.7,300.8 388.0,304.0 395.0,305.3" fill="none" stroke="#a8a8a8" stroke-width="1.25" stroke-linejoin="round"/>
<polyline points="330.8,305.4 332.7,304.0 340.6,301.6 345.3,298.4 350.0,294.5 354.8,292.9 359.5,290.6 364.2,289.8 368.9,289.0 372.1,288.2 373.7,290.6 375.0,286.4 378.3,284.0 381.5,279.1 383.2,273.4 384.8,260.3 386.4,244.0 388.1,227.7 389.7,221.1 391.3,209.7 392.1,203.2 393.8,201.5 395.4,203.2 397.0,208.1 398.7,219.5 400.3,232.6 401.9,247.2 403.6,260.3 406.0,271.7 409.3,281.5 412.6,289.7 417.4,297.9 424.0,303.6 430.0,305.4" fill="none" stroke="#111" stroke-width="1.4" stroke-linejoin="round"/>
<polyline points="330.8,305.4 332.7,304.7 343.7,301.6 351.6,299.2 359.5,298.4 364.2,298.4 368.9,300.0 375.2,302.2 384.8,303.6 391.3,302.8 397.9,299.5 402.8,294.6 406.0,288.1 408.5,278.3 410.1,263.6 411.7,244.0 413.0,227.7 414.2,211.3 415.0,201.5 416.1,206.4 417.1,204.8 418.3,217.9 419.9,235.8 421.5,257.0 424.0,276.6 426.4,293.0 429.7,301.1 433.8,304.4 440.0,305.4" fill="none" stroke="#111" stroke-width="1.0" stroke-linejoin="round"/>
<line x1="329.6" y1="187.6" x2="456" y2="187.6" stroke="#111" stroke-width="1.3"/>
<line x1="456" y1="187.6" x2="456" y2="305.5" stroke="#777" stroke-width="1.3"/>
<line x1="326.1" y1="305.5" x2="456" y2="305.5" stroke="#111" stroke-width="1.5"/>
<line x1="329.6" y1="187.6" x2="329.6" y2="308.5" stroke="#111" stroke-width="2.1"/>
<line x1="326.1" y1="305.5" x2="329.6" y2="305.5" stroke="#111" stroke-width="1"/>
<text x="322.6" y="308.2" font-size="7.5" text-anchor="end" font-weight="normal" font-style="normal" font-family='"Liberation Sans", sans-serif' fill="#1a1a1a" stroke="#1a1a1a" stroke-width="0.2">0</text>
<line x1="327.8" y1="299.6" x2="329.6" y2="299.6" stroke="#333" stroke-width="0.7"/>
<line x1="327.8" y1="293.8" x2="329.6" y2="293.8" stroke="#333" stroke-width="0.7"/>
<line x1="327.8" y1="287.9" x2="329.6" y2="287.9" stroke="#333" stroke-width="0.7"/>
<line x1="326.1" y1="282.0" x2="329.6" y2="282.0" stroke="#111" stroke-width="1"/>
<text x="322.6" y="284.7" font-size="7.5" text-anchor="end" font-weight="normal" font-style="normal" font-family='"Liberation Sans", sans-serif' fill="#1a1a1a" stroke="#1a1a1a" stroke-width="0.2">20</text>
<line x1="327.8" y1="276.1" x2="329.6" y2="276.1" stroke="#333" stroke-width="0.7"/>
<line x1="327.8" y1="270.2" x2="329.6" y2="270.2" stroke="#333" stroke-width="0.7"/>
<line x1="327.8" y1="264.4" x2="329.6" y2="264.4" stroke="#333" stroke-width="0.7"/>
<line x1="326.1" y1="258.5" x2="329.6" y2="258.5" stroke="#111" stroke-width="1"/>
<text x="322.6" y="261.2" font-size="7.5" text-anchor="end" font-weight="normal" font-style="normal" font-family='"Liberation Sans", sans-serif' fill="#1a1a1a" stroke="#1a1a1a" stroke-width="0.2">40</text>
<line x1="327.8" y1="252.6" x2="329.6" y2="252.6" stroke="#333" stroke-width="0.7"/>
<line x1="327.8" y1="246.8" x2="329.6" y2="246.8" stroke="#333" stroke-width="0.7"/>
<line x1="327.8" y1="240.9" x2="329.6" y2="240.9" stroke="#333" stroke-width="0.7"/>
<line x1="326.1" y1="235.0" x2="329.6" y2="235.0" stroke="#111" stroke-width="1"/>
<text x="322.6" y="237.7" font-size="7.5" text-anchor="end" font-weight="normal" font-style="normal" font-family='"Liberation Sans", sans-serif' fill="#1a1a1a" stroke="#1a1a1a" stroke-width="0.2">60</text>
<line x1="327.8" y1="229.1" x2="329.6" y2="229.1" stroke="#333" stroke-width="0.7"/>
<line x1="327.8" y1="223.2" x2="329.6" y2="223.2" stroke="#333" stroke-width="0.7"/>
<line x1="327.8" y1="217.4" x2="329.6" y2="217.4" stroke="#333" stroke-width="0.7"/>
<line x1="326.1" y1="211.5" x2="329.6" y2="211.5" stroke="#111" stroke-width="1"/>
<text x="322.6" y="214.2" font-size="7.5" text-anchor="end" font-weight="normal" font-style="normal" font-family='"Liberation Sans", sans-serif' fill="#1a1a1a" stroke="#1a1a1a" stroke-width="0.2">80</text>
<line x1="327.8" y1="205.6" x2="329.6" y2="205.6" stroke="#333" stroke-width="0.7"/>
<line x1="327.8" y1="199.8" x2="329.6" y2="199.8" stroke="#333" stroke-width="0.7"/>
<line x1="327.8" y1="193.9" x2="329.6" y2="193.9" stroke="#333" stroke-width="0.7"/>
<line x1="326.1" y1="188.0" x2="329.6" y2="188.0" stroke="#111" stroke-width="1"/>
<text x="322.6" y="190.7" font-size="7.5" text-anchor="end" font-weight="normal" font-style="normal" font-family='"Liberation Sans", sans-serif' fill="#1a1a1a" stroke="#1a1a1a" stroke-width="0.2">100</text>
<line x1="330.8" y1="305.5" x2="330.8" y2="307.5" stroke="#222" stroke-width="0.6"/>
<line x1="333.3" y1="305.5" x2="333.3" y2="307.5" stroke="#222" stroke-width="0.6"/>
<line x1="335.4" y1="305.5" x2="335.4" y2="307.5" stroke="#222" stroke-width="0.6"/>
<line x1="337.2" y1="305.5" x2="337.2" y2="307.5" stroke="#222" stroke-width="0.6"/>
<line x1="338.7" y1="305.5" x2="338.7" y2="307.5" stroke="#222" stroke-width="0.6"/>
<line x1="340.0" y1="305.5" x2="340.0" y2="307.5" stroke="#222" stroke-width="0.6"/>
<line x1="341.2" y1="305.5" x2="341.2" y2="309.0" stroke="#222" stroke-width="0.9"/>
<line x1="349.1" y1="305.5" x2="349.1" y2="307.5" stroke="#222" stroke-width="0.6"/>
<line x1="353.7" y1="305.5" x2="353.7" y2="307.5" stroke="#222" stroke-width="0.6"/>
<line x1="356.9" y1="305.5" x2="356.9" y2="307.5" stroke="#222" stroke-width="0.6"/>
<line x1="359.4" y1="305.5" x2="359.4" y2="307.5" stroke="#222" stroke-width="0.6"/>
<line x1="361.5" y1="305.5" x2="361.5" y2="307.5" stroke="#222" stroke-width="0.6"/>
<line x1="363.3" y1="305.5" x2="363.3" y2="307.5" stroke="#222" stroke-width="0.6"/>
<line x1="364.8" y1="305.5" x2="364.8" y2="307.5" stroke="#222" stroke-width="0.6"/>
<line x1="366.1" y1="305.5" x2="366.1" y2="307.5" stroke="#222" stroke-width="0.6"/>
<line x1="367.3" y1="305.5" x2="367.3" y2="309.0" stroke="#222" stroke-width="0.9"/>
<line x1="375.2" y1="305.5" x2="375.2" y2="307.5" stroke="#222" stroke-width="0.6"/>
<line x1="379.8" y1="305.5" x2="379.8" y2="307.5" stroke="#222" stroke-width="0.6"/>
<line x1="383.0" y1="305.5" x2="383.0" y2="307.5" stroke="#222" stroke-width="0.6"/>
<line x1="385.5" y1="305.5" x2="385.5" y2="307.5" stroke="#222" stroke-width="0.6"/>
<line x1="387.6" y1="305.5" x2="387.6" y2="307.5" stroke="#222" stroke-width="0.6"/>
<line x1="389.4" y1="305.5" x2="389.4" y2="307.5" stroke="#222" stroke-width="0.6"/>
<line x1="390.9" y1="305.5" x2="390.9" y2="307.5" stroke="#222" stroke-width="0.6"/>
<line x1="392.2" y1="305.5" x2="392.2" y2="307.5" stroke="#222" stroke-width="0.6"/>
<line x1="393.4" y1="305.5" x2="393.4" y2="309.0" stroke="#222" stroke-width="0.9"/>
<line x1="401.3" y1="305.5" x2="401.3" y2="307.5" stroke="#222" stroke-width="0.6"/>
<line x1="405.9" y1="305.5" x2="405.9" y2="307.5" stroke="#222" stroke-width="0.6"/>
<line x1="409.1" y1="305.5" x2="409.1" y2="307.5" stroke="#222" stroke-width="0.6"/>
<line x1="411.6" y1="305.5" x2="411.6" y2="307.5" stroke="#222" stroke-width="0.6"/>
<line x1="413.7" y1="305.5" x2="413.7" y2="307.5" stroke="#222" stroke-width="0.6"/>
<line x1="415.5" y1="305.5" x2="415.5" y2="307.5" stroke="#222" stroke-width="0.6"/>
<line x1="417.0" y1="305.5" x2="417.0" y2="307.5" stroke="#222" stroke-width="0.6"/>
<line x1="418.3" y1="305.5" x2="418.3" y2="307.5" stroke="#222" stroke-width="0.6"/>
<line x1="419.5" y1="305.5" x2="419.5" y2="309.0" stroke="#222" stroke-width="0.9"/>
<line x1="427.4" y1="305.5" x2="427.4" y2="307.5" stroke="#222" stroke-width="0.6"/>
<line x1="432.0" y1="305.5" x2="432.0" y2="307.5" stroke="#222" stroke-width="0.6"/>
<line x1="435.2" y1="305.5" x2="435.2" y2="307.5" stroke="#222" stroke-width="0.6"/>
<line x1="437.7" y1="305.5" x2="437.7" y2="307.5" stroke="#222" stroke-width="0.6"/>
<line x1="439.8" y1="305.5" x2="439.8" y2="307.5" stroke="#222" stroke-width="0.6"/>
<line x1="441.6" y1="305.5" x2="441.6" y2="307.5" stroke="#222" stroke-width="0.6"/>
<line x1="443.1" y1="305.5" x2="443.1" y2="307.5" stroke="#222" stroke-width="0.6"/>
<line x1="444.4" y1="305.5" x2="444.4" y2="307.5" stroke="#222" stroke-width="0.6"/>
<line x1="445.6" y1="305.5" x2="445.6" y2="309.0" stroke="#222" stroke-width="0.9"/>
<line x1="453.5" y1="305.5" x2="453.5" y2="307.5" stroke="#222" stroke-width="0.6"/>
<text x="341.0" y="317.1" font-size="7.5" text-anchor="middle" font-weight="normal" font-style="normal" font-family='"Liberation Sans", sans-serif' fill="#1a1a1a" stroke="#1a1a1a" stroke-width="0.2">10</text>
<text x="345.3" y="314.5" font-size="4.0" text-anchor="start" font-weight="normal" font-style="normal" font-family='"Liberation Sans", sans-serif' fill="#222" >1</text>
<text x="367.1" y="317.1" font-size="7.5" text-anchor="middle" font-weight="normal" font-style="normal" font-family='"Liberation Sans", sans-serif' fill="#1a1a1a" stroke="#1a1a1a" stroke-width="0.2">10</text>
<text x="371.4" y="314.5" font-size="4.0" text-anchor="start" font-weight="normal" font-style="normal" font-family='"Liberation Sans", sans-serif' fill="#222" >2</text>
<text x="393.2" y="317.1" font-size="7.5" text-anchor="middle" font-weight="normal" font-style="normal" font-family='"Liberation Sans", sans-serif' fill="#1a1a1a" stroke="#1a1a1a" stroke-width="0.2">10</text>
<text x="397.5" y="314.5" font-size="4.0" text-anchor="start" font-weight="normal" font-style="normal" font-family='"Liberation Sans", sans-serif' fill="#222" >3</text>
<text x="419.3" y="317.1" font-size="7.5" text-anchor="middle" font-weight="normal" font-style="normal" font-family='"Liberation Sans", sans-serif' fill="#1a1a1a" stroke="#1a1a1a" stroke-width="0.2">10</text>
<text x="423.6" y="314.5" font-size="4.0" text-anchor="start" font-weight="normal" font-style="normal" font-family='"Liberation Sans", sans-serif' fill="#222" >4</text>
<text x="445.4" y="317.1" font-size="7.5" text-anchor="middle" font-weight="normal" font-style="normal" font-family='"Liberation Sans", sans-serif' fill="#1a1a1a" stroke="#1a1a1a" stroke-width="0.2">10</text>
<text x="449.7" y="314.5" font-size="4.0" text-anchor="start" font-weight="normal" font-style="normal" font-family='"Liberation Sans", sans-serif' fill="#222" >5</text>
<text x="394.8" y="328.6" font-size="10.3" text-anchor="middle" font-weight="normal" font-style="normal" font-family='"Liberation Sans", sans-serif' fill="#1a1a1a" >APC-A</text>
<text x="0" y="0" font-size="10" text-anchor="middle" font-family='"Liberation Sans", sans-serif' fill="#222" transform="translate(304.8,245) rotate(-90)">% of Max</text>
<line x1="289" y1="209.5" x2="383" y2="209.5" stroke="#111" stroke-width="1.3"/>
<polygon points="386,209.5 381,207.3 381,211.7" fill="#111"/>
<line x1="289" y1="222.6" x2="354.3" y2="222.6" stroke="#111" stroke-width="1.3"/>
<polygon points="357.3,222.6 352.3,220.4 352.3,224.79999999999998" fill="#111"/>
<line x1="495" y1="213.4" x2="424.8" y2="213.4" stroke="#111" stroke-width="1.3"/>
<polygon points="421.8,213.4 426.8,211.20000000000002 426.8,215.6" fill="#111"/>
<text x="274.0" y="209.4" font-size="17.6" text-anchor="start" font-weight="normal" font-style="italic" font-family='"Liberation Serif", serif' fill="#111" >c</text>
<text x="280.6" y="213.8" font-size="10.8" text-anchor="start" font-weight="normal" font-style="italic" font-family='"Liberation Serif", serif' fill="#111" >2</text>
<text x="273.6" y="227" font-size="17.6" text-anchor="start" font-weight="normal" font-style="italic" font-family='"Liberation Serif", serif' fill="#111" >a</text>
<text x="0" y="0" font-size="19.3" font-style="italic" font-family='"Liberation Serif", serif' fill="#111" stroke="#111" stroke-width="0.45" transform="translate(496.5,218.2) scale(0.83,1)">б</text>
<text x="-0.1" y="360.1" font-size="16.7" font-weight="bold" font-family='"Liberation Sans", sans-serif' fill="#111" stroke="#111" stroke-width="0.4">D</text>
<text x="89.4" y="356.3" font-size="9.05" text-anchor="start" font-weight="bold" font-style="normal" font-family='"Liberation Sans", sans-serif' fill="#111" >KG1a cells from co-culture</text>
<line x1="53.2" y1="365.4" x2="53.2" y2="466.5" stroke="#333" stroke-width="1.5"/>
<line x1="52.5" y1="465.8" x2="253.3" y2="465.8" stroke="#444" stroke-width="1.5"/>
<line x1="49.9" y1="465.8" x2="53.2" y2="465.8" stroke="#333" stroke-width="1.2"/>
<text x="49.6" y="467.9" font-size="5.8" text-anchor="end" font-weight="bold" font-style="normal" font-family='"Liberation Sans", sans-serif' fill="#222" >0</text>
<line x1="49.9" y1="432.5" x2="53.2" y2="432.5" stroke="#333" stroke-width="1.2"/>
<text x="49.6" y="434.6" font-size="5.8" text-anchor="end" font-weight="bold" font-style="normal" font-family='"Liberation Sans", sans-serif' fill="#222" >10</text>
<line x1="49.9" y1="399.2" x2="53.2" y2="399.2" stroke="#333" stroke-width="1.2"/>
<text x="49.6" y="401.3" font-size="5.8" text-anchor="end" font-weight="bold" font-style="normal" font-family='"Liberation Sans", sans-serif' fill="#222" >20</text>
<line x1="49.9" y1="365.9" x2="53.2" y2="365.9" stroke="#333" stroke-width="1.2"/>
<text x="49.6" y="368.0" font-size="5.8" text-anchor="end" font-weight="bold" font-style="normal" font-family='"Liberation Sans", sans-serif' fill="#222" >30</text>
<text x="0" y="0" font-size="8.1" text-anchor="middle" font-weight="bold" font-family='"Liberation Sans", sans-serif' fill="#111" transform="translate(38.65,415.6) rotate(-90)">CD45+ANNEXIN+(%)</text>
<line x1="75.7" y1="429.0" x2="75.7" y2="431.1" stroke="#111" stroke-width="1.4"/>
<line x1="71.2" y1="429.0" x2="80.2" y2="429.0" stroke="#111" stroke-width="1.5"/>
<rect x="67.17" y="431.78" width="16.95" height="33.33" fill="url(#dot)" stroke="#111" stroke-width="1.35"/>
<line x1="75.7" y1="465.8" x2="75.7" y2="468.3" stroke="#444" stroke-width="0.9"/>
<line x1="102.8" y1="436.3" x2="102.8" y2="439.3" stroke="#111" stroke-width="1.4"/>
<line x1="98.2" y1="436.3" x2="107.2" y2="436.3" stroke="#111" stroke-width="1.5"/>
<rect x="94.17" y="439.98" width="17.15" height="25.13" fill="url(#dot)" stroke="#111" stroke-width="1.35"/>
<line x1="102.8" y1="465.8" x2="102.8" y2="468.3" stroke="#444" stroke-width="0.9"/>
<line x1="130.2" y1="439.1" x2="130.2" y2="441.7" stroke="#111" stroke-width="1.4"/>
<line x1="125.9" y1="439.1" x2="134.4" y2="439.1" stroke="#111" stroke-width="1.5"/>
<rect x="121.47" y="442.38" width="17.45" height="22.73" fill="url(#dot)" stroke="#111" stroke-width="1.35"/>
<line x1="130.2" y1="465.8" x2="130.2" y2="468.3" stroke="#444" stroke-width="0.9"/>
<line x1="175.3" y1="378.1" x2="175.3" y2="388.2" stroke="#111" stroke-width="1.4"/>
<line x1="170.3" y1="378.1" x2="180.3" y2="378.1" stroke="#111" stroke-width="1.5"/>
<rect x="166.78" y="388.88" width="17.15" height="76.23" fill="url(#chk2)" stroke="#111" stroke-width="1.35"/>
<line x1="175.3" y1="465.8" x2="175.3" y2="468.3" stroke="#444" stroke-width="0.9"/>
<line x1="202.7" y1="407.6" x2="202.7" y2="414.1" stroke="#111" stroke-width="1.4"/>
<line x1="197.9" y1="407.6" x2="207.4" y2="407.6" stroke="#111" stroke-width="1.5"/>
<rect x="194.08" y="414.78" width="17.15" height="50.33" fill="url(#chk2)" stroke="#111" stroke-width="1.35"/>
<line x1="202.7" y1="465.8" x2="202.7" y2="468.3" stroke="#444" stroke-width="0.9"/>
<line x1="230.1" y1="440.6" x2="230.1" y2="445.6" stroke="#111" stroke-width="1.4"/>
<line x1="225.2" y1="440.6" x2="235.0" y2="440.6" stroke="#111" stroke-width="1.5"/>
<rect x="221.28" y="446.28" width="17.65" height="18.82" fill="url(#chk2)" stroke="#111" stroke-width="1.35"/>
<line x1="230.1" y1="465.8" x2="230.1" y2="468.3" stroke="#444" stroke-width="0.9"/>
<text x="0" y="0" font-size="8.2" text-anchor="end" font-weight="bold" font-family='"Liberation Sans", sans-serif' fill="#111" transform="translate(77.7,477.5) rotate(-28.5)">WT</text>
<text x="0" y="0" font-size="8.2" text-anchor="end" font-weight="bold" font-family='"Liberation Sans", sans-serif' fill="#111" transform="translate(104.8,477.5) rotate(-28.5)">5 µg anti-ICAM</text>
<text x="0" y="0" font-size="8.2" text-anchor="end" font-weight="bold" font-family='"Liberation Sans", sans-serif' fill="#111" transform="translate(132.2,477.5) rotate(-28.5)">10 µg anti-ICAM</text>
<text x="0" y="0" font-size="8.2" text-anchor="end" font-weight="bold" font-family='"Liberation Sans", sans-serif' fill="#111" transform="translate(177.3,477.5) rotate(-28.5)">WT</text>
<text x="0" y="0" font-size="8.2" text-anchor="end" font-weight="bold" font-family='"Liberation Sans", sans-serif' fill="#111" transform="translate(204.7,477.5) rotate(-28.5)">5 µg anti-ICAM</text>
<text x="0" y="0" font-size="8.2" text-anchor="end" font-weight="bold" font-family='"Liberation Sans", sans-serif' fill="#111" transform="translate(232.1,477.5) rotate(-28.5)">10 µg anti-ICAM</text>
<rect x="189.9" y="363.2" width="10.3" height="5.4" fill="#f0f0f0" stroke="#111" stroke-width="1.3"/>
<rect x="189.9" y="373.3" width="10.3" height="5.2" fill="url(#chk2)" stroke="#111" stroke-width="1.3"/>
<text x="204.0" y="368.9" font-size="8.2" text-anchor="start" font-weight="bold" font-style="normal" font-family='"Liberation Sans", sans-serif' fill="#111" >veh</text>
<text x="204.0" y="379.0" font-size="8.15" text-anchor="start" font-weight="bold" font-style="normal" font-family='"Liberation Sans", sans-serif' fill="#111" >TNFα&#160;&#160;(25ng/mL)</text>
<text x="-0.1" y="539.6" font-size="16.7" font-weight="bold" font-family='"Liberation Sans", sans-serif' fill="#111" stroke="#111" stroke-width="0.4">E</text>
<line x1="53.3" y1="530.9" x2="53.3" y2="637.2" stroke="#333" stroke-width="1.3"/>
<line x1="52.7" y1="636.6" x2="264.2" y2="636.6" stroke="#555" stroke-width="1.3"/>
<line x1="49.6" y1="636.6" x2="53.3" y2="636.6" stroke="#333" stroke-width="1"/>
<text x="49.0" y="638.9" font-size="6.4" text-anchor="end" font-weight="normal" font-style="normal" font-family='"Liberation Sans", sans-serif' fill="#222" >0</text>
<line x1="49.6" y1="610.3" x2="53.3" y2="610.3" stroke="#333" stroke-width="1"/>
<text x="49.0" y="612.6" font-size="6.4" text-anchor="end" font-weight="normal" font-style="normal" font-family='"Liberation Sans", sans-serif' fill="#222" >5</text>
<line x1="49.6" y1="584.0" x2="53.3" y2="584.0" stroke="#333" stroke-width="1"/>
<text x="49.0" y="586.3" font-size="6.4" text-anchor="end" font-weight="normal" font-style="normal" font-family='"Liberation Sans", sans-serif' fill="#222" >10</text>
<line x1="49.6" y1="557.7" x2="53.3" y2="557.7" stroke="#333" stroke-width="1"/>
<text x="49.0" y="560.0" font-size="6.4" text-anchor="end" font-weight="normal" font-style="normal" font-family='"Liberation Sans", sans-serif' fill="#222" >15</text>
<line x1="49.6" y1="531.4" x2="53.3" y2="531.4" stroke="#333" stroke-width="1"/>
<text x="49.0" y="533.7" font-size="6.4" text-anchor="end" font-weight="normal" font-style="normal" font-family='"Liberation Sans", sans-serif' fill="#222" >20</text>
<text x="0" y="0" font-size="8.5" text-anchor="middle" font-family='"Liberation Sans", sans-serif' fill="#222" transform="translate(36.8,582.4) rotate(-90)">CD45+ Annexin+ %(PL-21)</text>
<line x1="79.2" y1="624.4" x2="79.2" y2="625.3" stroke="#111" stroke-width="1.4"/>
<line x1="70.0" y1="624.4" x2="88.3" y2="624.4" stroke="#111" stroke-width="1.5"/>
<rect x="61.90" y="625.90" width="34.50" height="10.10" fill="#8a8a8a" stroke="#111" stroke-width="1.2"/>
<line x1="79.2" y1="636.6" x2="79.2" y2="639.8000000000001" stroke="#444" stroke-width="0.9"/>
<line x1="131.8" y1="549.3" x2="131.8" y2="553.2" stroke="#111" stroke-width="1.4"/>
<line x1="122.2" y1="549.3" x2="141.5" y2="549.3" stroke="#111" stroke-width="1.5"/>
<rect x="114.40" y="553.80" width="34.80" height="82.20" fill="url(#chk)" stroke="#111" stroke-width="1.2"/>
<line x1="131.8" y1="636.6" x2="131.8" y2="639.8000000000001" stroke="#444" stroke-width="0.9"/>
<line x1="184.7" y1="586.6" x2="184.7" y2="591" stroke="#111" stroke-width="1.4"/>
<line x1="175.7" y1="586.6" x2="193.7" y2="586.6" stroke="#111" stroke-width="1.5"/>
<rect x="167.60" y="591.60" width="34.10" height="44.40" fill="url(#hl)" stroke="#111" stroke-width="1.2"/>
<line x1="184.7" y1="636.6" x2="184.7" y2="639.8000000000001" stroke="#444" stroke-width="0.9"/>
<line x1="237.4" y1="597.4" x2="237.4" y2="598.2" stroke="#111" stroke-width="1.4"/>
<line x1="228.1" y1="597.4" x2="246.7" y2="597.4" stroke="#111" stroke-width="1.5"/>
<rect x="219.90" y="598.80" width="35.00" height="37.20" fill="url(#vl)" stroke="#111" stroke-width="1.2"/>
<line x1="237.4" y1="636.6" x2="237.4" y2="639.8000000000001" stroke="#444" stroke-width="0.9"/>
<text x="66.5" y="655.1" font-size="9.75" text-anchor="end" font-weight="normal" font-style="normal" font-family='"Liberation Sans", sans-serif' fill="#111" >HS27a WT</text>
<text x="66.5" y="670.1" font-size="9.75" text-anchor="end" font-weight="normal" font-style="normal" font-family='"Liberation Sans", sans-serif' fill="#111" >Anti-ICAM1 AB</text>
<text x="66.5" y="684.9" font-size="9.75" text-anchor="end" font-weight="normal" font-style="normal" font-family='"Liberation Sans", sans-serif' fill="#111" >Anti-CD11b AB</text>
<text x="79.2" y="652.6" font-size="8" text-anchor="middle" font-weight="normal" font-style="normal" font-family='"Liberation Sans", sans-serif' fill="#111" stroke="#111" stroke-width="0.3">-</text>
<text x="133.8" y="652.6" font-size="8" text-anchor="middle" font-weight="normal" font-style="normal" font-family='"Liberation Sans", sans-serif' fill="#111" stroke="#111" stroke-width="0.3">+</text>
<text x="186.9" y="652.6" font-size="8" text-anchor="middle" font-weight="normal" font-style="normal" font-family='"Liberation Sans", sans-serif' fill="#111" stroke="#111" stroke-width="0.3">+</text>
<text x="240.0" y="652.6" font-size="8" text-anchor="middle" font-weight="normal" font-style="normal" font-family='"Liberation Sans", sans-serif' fill="#111" stroke="#111" stroke-width="0.3">+</text>
<text x="79.2" y="668.7" font-size="8" text-anchor="middle" font-weight="normal" font-style="normal" font-family='"Liberation Sans", sans-serif' fill="#111" stroke="#111" stroke-width="0.3">-</text>
<text x="133.8" y="668.7" font-size="8" text-anchor="middle" font-weight="normal" font-style="normal" font-family='"Liberation Sans", sans-serif' fill="#111" stroke="#111" stroke-width="0.3">-</text>
<text x="186.9" y="668.7" font-size="8" text-anchor="middle" font-weight="normal" font-style="normal" font-family='"Liberation Sans", sans-serif' fill="#111" stroke="#111" stroke-width="0.3">+</text>
<text x="240.0" y="668.7" font-size="8" text-anchor="middle" font-weight="normal" font-style="normal" font-family='"Liberation Sans", sans-serif' fill="#111" stroke="#111" stroke-width="0.3">-</text>
<text x="79.2" y="683.4" font-size="8" text-anchor="middle" font-weight="normal" font-style="normal" font-family='"Liberation Sans", sans-serif' fill="#111" stroke="#111" stroke-width="0.3">-</text>
<text x="133.8" y="683.4" font-size="8" text-anchor="middle" font-weight="normal" font-style="normal" font-family='"Liberation Sans", sans-serif' fill="#111" stroke="#111" stroke-width="0.3">-</text>
<text x="186.9" y="683.4" font-size="8" text-anchor="middle" font-weight="normal" font-style="normal" font-family='"Liberation Sans", sans-serif' fill="#111" stroke="#111" stroke-width="0.3">-</text>
<text x="240.0" y="683.4" font-size="8" text-anchor="middle" font-weight="normal" font-style="normal" font-family='"Liberation Sans", sans-serif' fill="#111" stroke="#111" stroke-width="0.3">+</text>
<line x1="337.1" y1="530.0" x2="337.1" y2="636.7" stroke="#333" stroke-width="1.3"/>
<line x1="336.5" y1="636.1" x2="520" y2="636.1" stroke="#555" stroke-width="1.3"/>
<line x1="333.4" y1="636.1" x2="337.1" y2="636.1" stroke="#333" stroke-width="1"/>
<text x="333.0" y="638.2" font-size="5.9" text-anchor="end" font-weight="normal" font-style="normal" font-family='"Liberation Sans", sans-serif' fill="#222" >0</text>
<line x1="333.4" y1="600.9" x2="337.1" y2="600.9" stroke="#333" stroke-width="1"/>
<text x="333.0" y="603.0" font-size="5.9" text-anchor="end" font-weight="normal" font-style="normal" font-family='"Liberation Sans", sans-serif' fill="#222" >5</text>
<line x1="333.4" y1="565.7" x2="337.1" y2="565.7" stroke="#333" stroke-width="1"/>
<text x="333.0" y="567.8" font-size="5.9" text-anchor="end" font-weight="normal" font-style="normal" font-family='"Liberation Sans", sans-serif' fill="#222" >10</text>
<line x1="333.4" y1="530.5" x2="337.1" y2="530.5" stroke="#333" stroke-width="1"/>
<text x="333.0" y="532.6" font-size="5.9" text-anchor="end" font-weight="normal" font-style="normal" font-family='"Liberation Sans", sans-serif' fill="#222" >15</text>
<text x="0" y="0" font-size="8.4" text-anchor="middle" font-family='"Liberation Sans", sans-serif' fill="#222" transform="translate(323.3,581) rotate(-90)">CD45+ Annexin+ %(KG1a)</text>
<line x1="359.6" y1="605.8" x2="359.6" y2="609.3" stroke="#111" stroke-width="1.4"/>
<line x1="351.9" y1="605.8" x2="367.3" y2="605.8" stroke="#111" stroke-width="1.5"/>
<rect x="344.90" y="609.90" width="29.50" height="25.60" fill="url(#gb2)" stroke="#111" stroke-width="1.2"/>
<line x1="359.6" y1="636.1" x2="359.6" y2="639.3000000000001" stroke="#444" stroke-width="0.9"/>
<line x1="405.1" y1="565.0" x2="405.1" y2="568.6" stroke="#111" stroke-width="1.4"/>
<line x1="397.3" y1="565.0" x2="412.9" y2="565.0" stroke="#111" stroke-width="1.5"/>
<rect x="390.00" y="569.20" width="30.30" height="66.30" fill="url(#chk)" stroke="#111" stroke-width="1.2"/>
<line x1="405.1" y1="636.1" x2="405.1" y2="639.3000000000001" stroke="#444" stroke-width="0.9"/>
<line x1="450.7" y1="606.7" x2="450.7" y2="610.5" stroke="#111" stroke-width="1.4"/>
<line x1="442.9" y1="606.7" x2="458.5" y2="606.7" stroke="#111" stroke-width="1.5"/>
<rect x="435.80" y="611.10" width="29.80" height="24.40" fill="url(#hl)" stroke="#111" stroke-width="1.2"/>
<line x1="450.7" y1="636.1" x2="450.7" y2="639.3000000000001" stroke="#444" stroke-width="0.9"/>
<line x1="496.8" y1="605.1" x2="496.8" y2="608.3" stroke="#111" stroke-width="1.4"/>
<line x1="488.8" y1="605.1" x2="504.8" y2="605.1" stroke="#111" stroke-width="1.5"/>
<rect x="481.60" y="608.90" width="30.30" height="26.60" fill="url(#vl)" stroke="#111" stroke-width="1.2"/>
<line x1="496.8" y1="636.1" x2="496.8" y2="639.3000000000001" stroke="#444" stroke-width="0.9"/>
<text x="345.4" y="650.3" font-size="9.8" text-anchor="end" font-weight="normal" font-style="normal" font-family='"Liberation Sans", sans-serif' fill="#111" >HS5 WT</text>
<text x="345.4" y="665.4" font-size="9.8" text-anchor="end" font-weight="normal" font-style="normal" font-family='"Liberation Sans", sans-serif' fill="#111" >Anti-ICAM1 AB</text>
<text x="345.4" y="680.4" font-size="9.8" text-anchor="end" font-weight="normal" font-style="normal" font-family='"Liberation Sans", sans-serif' fill="#111" >Anti-CD11b AB</text>
<text x="360.0" y="648.6" font-size="7" text-anchor="middle" font-weight="normal" font-style="normal" font-family='"Liberation Sans", sans-serif' fill="#111" stroke="#111" stroke-width="0.25">-</text>
<text x="406.5" y="648.6" font-size="7" text-anchor="middle" font-weight="normal" font-style="normal" font-family='"Liberation Sans", sans-serif' fill="#111" stroke="#111" stroke-width="0.25">+</text>
<text x="452.5" y="648.6" font-size="7" text-anchor="middle" font-weight="normal" font-style="normal" font-family='"Liberation Sans", sans-serif' fill="#111" stroke="#111" stroke-width="0.25">+</text>
<text x="498.5" y="648.6" font-size="7" text-anchor="middle" font-weight="normal" font-style="normal" font-family='"Liberation Sans", sans-serif' fill="#111" stroke="#111" stroke-width="0.25">+</text>
<text x="360.0" y="663.5" font-size="7" text-anchor="middle" font-weight="normal" font-style="normal" font-family='"Liberation Sans", sans-serif' fill="#111" stroke="#111" stroke-width="0.25">-</text>
<text x="406.5" y="663.5" font-size="7" text-anchor="middle" font-weight="normal" font-style="normal" font-family='"Liberation Sans", sans-serif' fill="#111" stroke="#111" stroke-width="0.25">-</text>
<text x="452.5" y="663.5" font-size="7" text-anchor="middle" font-weight="normal" font-style="normal" font-family='"Liberation Sans", sans-serif' fill="#111" stroke="#111" stroke-width="0.25">+</text>
<text x="498.5" y="663.5" font-size="7" text-anchor="middle" font-weight="normal" font-style="normal" font-family='"Liberation Sans", sans-serif' fill="#111" stroke="#111" stroke-width="0.25">-</text>
<text x="360.0" y="678.2" font-size="7" text-anchor="middle" font-weight="normal" font-style="normal" font-family='"Liberation Sans", sans-serif' fill="#111" stroke="#111" stroke-width="0.25">-</text>
<text x="406.5" y="678.2" font-size="7" text-anchor="middle" font-weight="normal" font-style="normal" font-family='"Liberation Sans", sans-serif' fill="#111" stroke="#111" stroke-width="0.25">-</text>
<text x="452.5" y="678.2" font-size="7" text-anchor="middle" font-weight="normal" font-style="normal" font-family='"Liberation Sans", sans-serif' fill="#111" stroke="#111" stroke-width="0.25">-</text>
<text x="498.5" y="678.2" font-size="7" text-anchor="middle" font-weight="normal" font-style="normal" font-family='"Liberation Sans", sans-serif' fill="#111" stroke="#111" stroke-width="0.25">+</text>
</svg></body></html>
